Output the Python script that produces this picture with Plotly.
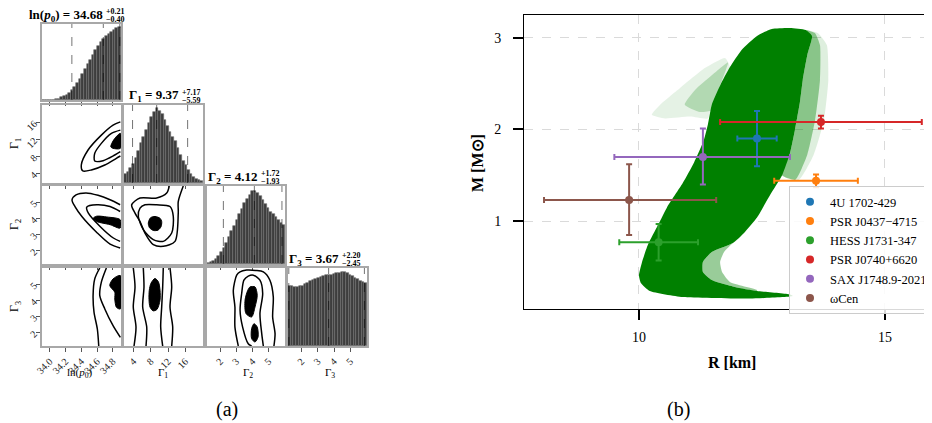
import plotly.graph_objects as go

W, H = 932, 423
SERIF = "Liberation Serif"

# ---------------- DATA ----------------
# 1D marginal histograms (relative heights, equal bins)
lnp0_bin_start, lnp0_bin_width = 33.9, 1.0 / 30
lnp0_hist = [0, 0, 0, 0, 0.005, 0.01, 0.02, 0.035, 0.05, 0.075, 0.10, 0.14, 0.18, 0.23, 0.29,
             0.35, 0.42, 0.49, 0.55, 0.62, 0.68, 0.74, 0.79, 0.83, 0.87, 0.90, 0.93, 0.96, 0.98, 1.0]
g1_bin_start, g1_bin_width = 1.8, 0.61
g1_hist = [0.12, 0.15, 0.20, 0.26, 0.33, 0.43, 0.53, 0.62, 0.71, 0.80, 0.88, 0.95, 1.0, 0.97, 0.92,
           0.84, 0.76, 0.68, 0.62, 0.56, 0.47, 0.38, 0.30, 0.24, 0.18, 0.12, 0.08, 0.06, 0.04, 0.03]
g2_bin_start, g2_bin_width = 1.17, 0.162
g2_hist = [0.015, 0.03, 0.045, 0.07, 0.11, 0.16, 0.22, 0.29, 0.37, 0.44, 0.52, 0.60, 0.67, 0.75, 0.82,
           0.88, 0.94, 0.99, 0.99, 0.96, 0.92, 0.86, 0.81, 0.76, 0.71, 0.67, 0.63, 0.59, 0.56, 0.53]
g3_bin_start, g3_bin_width = 1.17, 0.162
g3_hist = [0.81, 0.81, 0.80, 0.80, 0.81, 0.82, 0.84, 0.86, 0.88, 0.90, 0.91, 0.93, 0.94, 0.95, 0.96,
           0.97, 0.97, 0.98, 0.99, 0.99, 1.0, 1.0, 0.99, 0.97, 0.95, 0.93, 0.91, 0.89, 0.87, 0.85]

# median and 16/84 % quantiles
lnp0_q = [34.68, 0.21, 0.40]
g1_q = [9.37, 7.17, 5.59]
g2_q = [4.12, 1.72, 1.93]
g3_q = [3.67, 2.20, 2.45]

# 2D contours (x, y)
c10_outer_x = [34.897, 34.804, 34.655, 34.486, 34.40, 34.42, 34.528, 34.699, 34.846, 34.897]
c10_outer_y = [16.15, 15.38, 13.04, 9.54, 6.03, 4.63, 4.86, 6.03, 7.60, 8.13]
c10_mid_x = [34.897, 34.783, 34.655, 34.571, 34.571, 34.677, 34.826, 34.897]
c10_mid_y = [14.21, 13.44, 11.10, 8.77, 6.97, 7.04, 8.37, 9.14]
c10_fill_x = [34.897, 34.817, 34.775, 34.80, 34.897]
c10_fill_y = [13.44, 12.04, 10.31, 9.95, 9.93]

c20_outer_x = [34.894, 34.766, 34.613, 34.46, 34.333, 34.282, 34.32, 34.41, 34.60, 34.766, 34.894]
c20_outer_y = [4.86, 5.17, 5.45, 5.60, 5.48, 5.17, 4.74, 4.11, 3.12, 2.41, 2.17]
c20_mid_x = [34.894, 34.766, 34.597, 34.469, 34.49, 34.639, 34.808, 34.894]
c20_mid_y = [4.44, 4.75, 4.86, 4.72, 4.34, 3.51, 2.79, 2.58]
c20_fill_x = [34.553, 34.597, 34.766, 34.894, 34.894, 34.724, 34.597]
c20_fill_y = [4.03, 3.82, 3.62, 3.41, 3.93, 4.10, 4.15]

c30_outer_x = [34.635, 34.571, 34.55, 34.562, 34.604, 34.622]
c30_outer_y = [6.03, 5.35, 4.31, 3.27, 2.23, 1.17]
c30_mid_x = [34.719, 34.655, 34.635, 34.699, 34.804, 34.897]
c30_mid_y = [6.03, 5.145, 4.31, 3.48, 2.44, 1.71]
c30_fill_x = [34.897, 34.804, 34.762, 34.826, 34.826, 34.847, 34.897]
c30_fill_y = [5.56, 5.35, 4.94, 4.52, 4.10, 3.58, 3.48]

c21_outer_x = [12.29, 11.69, 9.37, 5.51, 3.58, 4.35, 5.51, 6.66, 8.59, 10.90, 13.61, 14.37, 14.37, 15.53]
c21_outer_y = [6.03, 5.59, 5.28, 5.28, 4.86, 4.34, 3.82, 3.10, 2.38, 2.27, 2.58, 4.34, 5.06, 6.03]
c21_mid_x = [5.51, 5.12, 6.27, 8.59, 10.90, 12.85, 13.22, 12.45, 9.37, 6.66, 5.51]
c21_mid_y = [4.65, 4.13, 3.31, 2.69, 2.58, 3.10, 4.13, 4.75, 4.86, 4.86, 4.65]
c21_fill_x = [7.43, 7.94, 8.98, 10.14, 10.53, 10.37, 9.68, 8.59, 7.71]
c21_fill_y = [3.72, 4.05, 4.13, 4.02, 3.82, 3.49, 3.28, 3.26, 3.43]

c31_line_y = [6.03, 4.85, 3.60, 2.35, 1.17]
c31_l1_x = [3.95, 4.35, 3.95, 4.58, 4.12]
c31_l2_x = [6.27, 6.43, 6.13, 7.06, 6.90]
c31_l3_x = [10.90, 10.76, 10.53, 10.30, 10.76]
c31_l4_x = [12.46, 12.85, 12.46, 13.08, 12.85]
c31_fill_x = [8.98, 8.05, 7.66, 7.59, 7.82, 8.52, 9.44, 10.14, 10.14, 9.79]
c31_fill_y = [5.38, 5.08, 4.65, 4.08, 3.60, 3.36, 3.45, 4.02, 4.65, 5.15]

c32_outer_x = [3.12, 2.91, 2.91, 2.81, 3.02, 3.23, 3.64, 4.20, 4.68, 5.09, 5.30, 5.26, 5.41, 5.34]
c32_outer_y = [1.17, 2.35, 3.60, 4.64, 5.58, 5.79, 5.90, 5.88, 5.79, 5.27, 4.23, 2.98, 1.94, 1.17]
c32_mid_x = [3.95, 3.74, 3.39, 3.23, 3.33, 3.47, 3.74, 4.06, 4.47, 4.64, 4.47, 4.58, 4.68]
c32_mid_y = [1.17, 1.31, 2.35, 3.40, 4.44, 5.27, 5.52, 5.58, 5.27, 4.44, 3.19, 1.94, 1.17]
c32_fill1_x = [3.85, 4.16, 4.30, 4.16, 3.95, 3.60, 3.54, 3.71]
c32_fill1_y = [4.85, 4.85, 4.33, 3.60, 2.98, 3.19, 4.02, 4.64]
c32_fill2_x = [4.10, 4.30, 4.35, 4.16, 3.95, 3.95]
c32_fill2_y = [2.56, 2.35, 1.73, 1.42, 1.63, 2.25]

# Mass-radius band outline (R [km], M [Msun])
band_R = [13.07, 13.39, 13.52, 13.43, 13.33, 13.27, 13.17, 13.07, 12.91, 12.66, 12.40, 12.15, 11.91,
          11.48, 11.30, 11.30, 11.48, 11.95, 12.40, 13.07, 13.13,
          12.26, 10.89, 10.22, 10.04, 10.00, 10.06, 10.18, 10.39, 10.57, 10.89, 11.12, 11.32, 11.40,
          11.48, 11.65, 11.85, 12.09, 12.40, 12.70]
band_M = [3.106, 3.084, 3.02, 2.83, 2.54, 2.29, 1.99, 1.74, 1.50, 1.28, 1.04, 0.88, 0.761,
          0.663, 0.554, 0.445, 0.358, 0.282, 0.238, 0.20, 0.183,
          0.156, 0.172, 0.238, 0.325, 0.41, 0.55, 0.74, 0.96, 1.15, 1.415, 1.64, 1.885, 2.05,
          2.27, 2.48, 2.68, 2.87, 3.02, 3.095]
hook_R = [12.15, 11.91, 11.73, 11.65, 11.69, 11.85, 12.40, 12.40, 11.95, 11.48, 11.30, 11.30, 11.48, 11.91]
hook_M = [0.88, 0.761, 0.663, 0.554, 0.445, 0.336, 0.249, 0.238, 0.282, 0.358, 0.445, 0.554, 0.663, 0.761]
fringe_in_R = [13.39, 13.58, 13.68, 13.68, 13.58, 13.42, 13.18, 12.91, 13.07, 13.17, 13.27, 13.33, 13.43, 13.52]
fringe_in_M = [3.084, 3.05, 2.92, 2.54, 2.10, 1.72, 1.45, 1.50, 1.74, 1.99, 2.29, 2.54, 2.83, 3.02]
fringe_out_R = [13.39, 13.64, 13.82, 13.85, 13.76, 13.55, 13.25, 12.91, 13.07, 13.17, 13.27, 13.33, 13.43, 13.52]
fringe_out_M = [3.084, 3.05, 2.92, 2.54, 2.10, 1.72, 1.45, 1.50, 1.74, 1.99, 2.29, 2.54, 2.83, 3.02]
fuzz_R = [11.75, 11.34, 10.83, 10.43, 10.26, 10.53, 11.04, 11.40, 11.48, 11.65, 11.85]
fuzz_M = [2.78, 2.67, 2.45, 2.27, 2.16, 2.12, 2.14, 2.12, 2.27, 2.48, 2.68]
fuzz_in_R = [11.81, 11.48, 11.14, 10.93, 11.24, 11.48, 11.65]
fuzz_in_M = [2.73, 2.59, 2.43, 2.27, 2.19, 2.21, 2.48]

# observations
obs_names = ["4U 1702-429", "PSR J0437\u22124715", "HESS J1731-347", "PSR J0740+6620",
             "SAX J1748.9-2021", "\u03c9Cen"]
obs_colors = ["#1f77b4", "#ff7f0e", "#2ca02c", "#d62728", "#9467bd", "#8c564b"]
obs_R = [12.4, 13.6, 10.4, 13.7, 11.3, 9.8]
obs_R_plus = [0.4, 0.85, 0.8, 2.05, 1.77, 1.77]
obs_R_minus = [0.4, 0.85, 0.8, 2.05, 1.8, 1.73]
obs_M = [1.9, 1.44, 0.77, 2.08, 1.70, 1.23]
obs_M_plus = [0.3, 0.07, 0.20, 0.07, 0.31, 0.39]
obs_M_minus = [0.3, 0.07, 0.20, 0.07, 0.30, 0.38]

# ---------------- LAYOUT HELPERS ----------------
# the page body adds an 8px offset; positions below are screen pixels
OFF = 8

def fx(p):
    return min(1.0, max(0.0, (p - OFF) / W))

def fy(p):
    return min(1.0, max(0.0, 1 - (p - OFF) / H))

col_px = [(42, 121), (124, 203), (207, 285), (288, 367)]
row_px = [(24, 100), (105, 183), (186, 264), (268, 346)]
par_range = [[33.9, 34.905], [1.8, 20.1], [1.17, 6.03], [1.17, 6.03]]
par_ticks = [[34.0, 34.2, 34.4, 34.6, 34.8], [4, 8, 12, 16], [2, 3, 4, 5], [2, 3, 4, 5]]
par_ticktext = [["34.0", "34.2", "34.4", "34.6", "34.8"], ["4", "8", "12", "16"],
                ["2", "3", "4", "5"], ["2", "3", "4", "5"]]
hist_ymax = [1.037, 1.045, 1.055, 1.06]

fig = go.Figure()
layout = {}
panel_ids = {}
k = 0
for r in range(4):
    for c in range(r + 1):
        k += 1
        panel_ids[(r, c)] = k
        xa = dict(domain=[fx(col_px[c][0]), fx(col_px[c][1])], range=par_range[c],
                  anchor="y%d" % k, showgrid=False, zeroline=False, showline=True,
                  linecolor="#a8a8a8", linewidth=1.5, mirror=True, ticks="outside", ticklen=4,
                  tickwidth=1, tickcolor="#555", tickvals=par_ticks[c], ticktext=par_ticktext[c],
                  showticklabels=(r == 3), tickangle=-45, automargin=False,
                  tickfont=dict(family=SERIF, size=10, color="#222"))
        if r == c:
            ya = dict(domain=[fy(row_px[r][1]), fy(row_px[r][0])], range=[0, hist_ymax[r]],
                      anchor="x%d" % k, showgrid=False, zeroline=False, showline=True,
                      linecolor="#a8a8a8", linewidth=1.5, mirror=True, showticklabels=False,
                      ticks="", automargin=False)
        else:
            ya = dict(domain=[fy(row_px[r][1]), fy(row_px[r][0])], range=par_range[r],
                      anchor="x%d" % k, showgrid=False, zeroline=False, showline=True,
                      linecolor="#a8a8a8", linewidth=1.5, mirror=True,
                      ticks="outside" if c == 0 else "", ticklen=4, tickwidth=1, tickcolor="#555",
                      tickvals=par_ticks[r], ticktext=par_ticktext[r],
                      showticklabels=(c == 0), tickangle=-45, automargin=False,
                      tickfont=dict(family=SERIF, size=10, color="#222"))
        layout["xaxis%d" % k if k > 1 else "xaxis"] = xa
        layout["yaxis%d" % k if k > 1 else "yaxis"] = ya

def axref(k):
    return ("x" if k == 1 else "x%d" % k), ("y" if k == 1 else "y%d" % k)

# histograms
hists = [(lnp0_bin_start, lnp0_bin_width, lnp0_hist, lnp0_q),
         (g1_bin_start, g1_bin_width, g1_hist, g1_q),
         (g2_bin_start, g2_bin_width, g2_hist, g2_q),
         (g3_bin_start, g3_bin_width, g3_hist, g3_q)]
for i, (s, w, h, q) in enumerate(hists):
    xr, yr = axref(panel_ids[(i, i)])
    centers = [s + w * (j + 0.5) for j in range(len(h))]
    fig.add_trace(go.Bar(x=centers, y=h, width=w, xaxis=xr, yaxis=yr, showlegend=False,
                         marker=dict(color="#3d3d3d", line=dict(color="#707070", width=0.6))))
    for v in (q[0] - q[2], q[0], q[0] + q[1]):
        fig.add_trace(go.Scatter(x=[v, v], y=[0, hist_ymax[i]], mode="lines", xaxis=xr, yaxis=yr,
                                 showlegend=False,
                                 line=dict(color="rgba(0,0,0,0.55)", width=1, dash="dash")))

def add_line(k, xs, ys):
    xr, yr = axref(k)
    fig.add_trace(go.Scatter(x=xs, y=ys, mode="lines", xaxis=xr, yaxis=yr, showlegend=False,
                             line=dict(color="black", width=1.5, shape="spline", smoothing=0.8)))

def add_fill(k, xs, ys):
    xr, yr = axref(k)
    fig.add_trace(go.Scatter(x=xs + xs[:1], y=ys + ys[:1], mode="lines", fill="toself",
                             fillcolor="black", xaxis=xr, yaxis=yr, showlegend=False,
                             line=dict(color="black", width=1, shape="spline", smoothing=0.8)))

k10, k20, k30 = panel_ids[(1, 0)], panel_ids[(2, 0)], panel_ids[(3, 0)]
k21, k31, k32 = panel_ids[(2, 1)], panel_ids[(3, 1)], panel_ids[(3, 2)]
add_line(k10, c10_outer_x, c10_outer_y); add_line(k10, c10_mid_x, c10_mid_y); add_fill(k10, c10_fill_x, c10_fill_y)
add_line(k20, c20_outer_x, c20_outer_y); add_line(k20, c20_mid_x, c20_mid_y); add_fill(k20, c20_fill_x, c20_fill_y)
add_line(k30, c30_outer_x, c30_outer_y); add_line(k30, c30_mid_x, c30_mid_y); add_fill(k30, c30_fill_x, c30_fill_y)
add_line(k21, c21_outer_x, c21_outer_y); add_line(k21, c21_mid_x, c21_mid_y); add_fill(k21, c21_fill_x, c21_fill_y)
for lx in (c31_l1_x, c31_l2_x, c31_l3_x, c31_l4_x):
    add_line(k31, lx, c31_line_y)
add_fill(k31, c31_fill_x, c31_fill_y)
add_line(k32, c32_outer_x, c32_outer_y); add_line(k32, c32_mid_x, c32_mid_y)
add_fill(k32, c32_fill1_x, c32_fill1_y); add_fill(k32, c32_fill2_x, c32_fill2_y)

# ---------------- M-R panel ----------------
KR = 11
layout["xaxis%d" % KR] = dict(domain=[fx(524), 1.0], range=[7.663, 16.12], anchor="y%d" % KR,
                              tickvals=[10, 15], ticks="outside", ticklen=10, tickwidth=2,
                              tickcolor="black", showline=True, linecolor="black", linewidth=1,
                              mirror=True, zeroline=False, showgrid=True, gridcolor="#dadada",
                              griddash="dash", gridwidth=1, automargin=False, ticklabelstandoff=5,
                              tickfont=dict(family=SERIF, size=14, color="black"))
layout["yaxis%d" % KR] = dict(domain=[fy(309), fy(15)], range=[0.042, 3.248], anchor="x%d" % KR,
                              tickvals=[1, 2, 3], ticks="outside", ticklen=10, tickwidth=2,
                              tickcolor="black", showline=True, linecolor="black", linewidth=1,
                              mirror=False, zeroline=False, showgrid=True, gridcolor="#dadada",
                              griddash="dash", gridwidth=1, automargin=False, ticklabelstandoff=9,
                              tickfont=dict(family=SERIF, size=14, color="black"))
xr, yr = "x%d" % KR, "y%d" % KR
band_layers = [(fuzz_R, fuzz_M, "rgba(0,128,0,0.10)"),
               (fuzz_in_R, fuzz_in_M, "rgba(0,128,0,0.22)"),
               (fringe_out_R, fringe_out_M, "rgba(0,128,0,0.13)"),
               (fringe_in_R, fringe_in_M, "rgba(0,128,0,0.38)"),
               (hook_R, hook_M, "rgba(0,128,0,0.4)"),
               (band_R, band_M, "#008000")]
for bx, by, bc in band_layers:
    fig.add_trace(go.Scatter(x=bx + bx[:1], y=by + by[:1], fill="toself", mode="lines",
                             line=dict(width=0, shape="spline", smoothing=0.5), fillcolor=bc,
                             xaxis=xr, yaxis=yr, showlegend=False, hoverinfo="skip"))
for i in range(len(obs_names)):
    fig.add_trace(go.Scatter(
        x=[obs_R[i]], y=[obs_M[i]], mode="markers", name=obs_names[i], xaxis=xr, yaxis=yr,
        marker=dict(color=obs_colors[i], size=8),
        error_x=dict(type="data", symmetric=False, array=[obs_R_plus[i]],
                     arrayminus=[obs_R_minus[i]], color=obs_colors[i], thickness=2, width=3),
        error_y=dict(type="data", symmetric=False, array=[obs_M_plus[i]],
                     arrayminus=[obs_M_minus[i]], color=obs_colors[i], thickness=2, width=3)))

# ---------------- annotations ----------------
ann = []
titles = [("ln(<i>p</i><sub>0</sub>) = %.2f", lnp0_q, 0, 104),
          ("\u0393<sub>1</sub> = %.2f", g1_q, 1, 180),
          ("\u0393<sub>2</sub> = %.2f", g2_q, 2, 259),
          ("\u0393<sub>3</sub> = %.2f", g3_q, 3, 340)]
for fmt, q, i, xr_px in titles:
    top = row_px[i][0]
    ann.append(dict(text="<b>" + (fmt % q[0]) + "</b>", x=fx(xr_px + 1), y=fy(top - 9),
                    xref="paper", yref="paper", xanchor="right", yanchor="middle",
                    showarrow=False, font=dict(family=SERIF, size=13, color="black")))
    ann.append(dict(text="<b>+%.2f</b>" % q[1], x=fx(xr_px), y=fy(top - 12.5),
                    xref="paper", yref="paper", xanchor="left", yanchor="middle",
                    showarrow=False, font=dict(family=SERIF, size=8, color="black")))
    ann.append(dict(text="<b>\u2212%.2f</b>" % q[2], x=fx(xr_px), y=fy(top - 4.5),
                    xref="paper", yref="paper", xanchor="left", yanchor="middle",
                    showarrow=False, font=dict(family=SERIF, size=8, color="black")))
xlabels = [("ln(<i>p</i><sub>0</sub>)", 80), ("\u0393<sub>1</sub>", 163),
           ("\u0393<sub>2</sub>", 248), ("\u0393<sub>3</sub>", 330)]
for t, xp in xlabels:
    ann.append(dict(text=t, x=fx(xp), y=fy(373), xref="paper", yref="paper", showarrow=False,
                    xanchor="center", yanchor="middle",
                    font=dict(family=SERIF, size=11, color="black")))
ylabels = [("\u0393<sub>1</sub>", 144), ("\u0393<sub>2</sub>", 225), ("\u0393<sub>3</sub>", 307)]
for t, yp in ylabels:
    ann.append(dict(text=t, x=fx(15), y=fy(yp), xref="paper", yref="paper", showarrow=False,
                    textangle=-90, xanchor="center", yanchor="middle",
                    font=dict(family=SERIF, size=12, color="black")))
ann.append(dict(text="<b>R [km]</b>", x=fx(732), y=fy(362), xref="paper", yref="paper",
                showarrow=False, xanchor="center", yanchor="middle",
                font=dict(family=SERIF, size=16, color="black")))
ann.append(dict(text="<b>M [M\u2299]</b>", x=fx(477), y=fy(163), xref="paper", yref="paper",
                showarrow=False, textangle=-90, xanchor="center", yanchor="middle",
                font=dict(family=SERIF, size=16, color="black")))
ann.append(dict(text="(a)", x=fx(227), y=fy(409), xref="paper", yref="paper", showarrow=False,
                xanchor="center", yanchor="middle", font=dict(family=SERIF, size=20, color="black")))
ann.append(dict(text="(b)", x=fx(678), y=fy(409), xref="paper", yref="paper", showarrow=False,
                xanchor="center", yanchor="middle", font=dict(family=SERIF, size=20, color="black")))

layout.update(dict(
    width=W, height=H, margin=dict(l=0, r=0, t=0, b=0, autoexpand=False), paper_bgcolor="white",
    plot_bgcolor="white", bargap=0, annotations=ann,
    legend=dict(x=fx(789), y=fy(186), xanchor="left", yanchor="top",
                bgcolor="rgba(255,255,255,0.85)", bordercolor="#cccccc", borderwidth=1,
                font=dict(family=SERIF, size=12.5, color="black"), tracegroupgap=0,
                itemwidth=30),
))
fig.update_layout(**layout)
fig.write_html("out.html")
